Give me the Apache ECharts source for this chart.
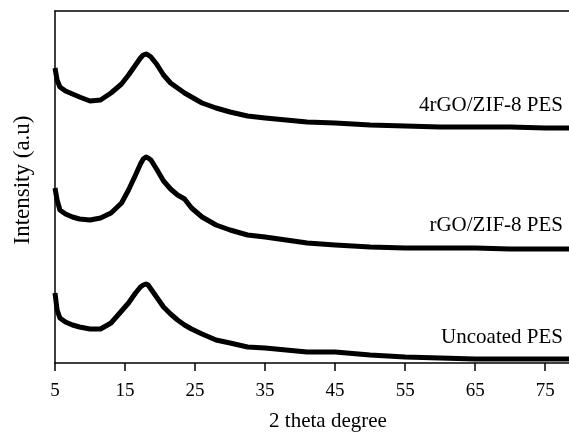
<!DOCTYPE html>
<html>
<head>
<meta charset="utf-8">
<script src="https://cdn.jsdelivr.net/npm/echarts@6/dist/echarts.min.js"></script>
<style>
html,body{margin:0;padding:0;background:#fff;}
#c{width:569px;height:433px;}
</style>
</head>
<body>
<div id="c"></div>
<script>
// 2 theta sample positions (degrees)
var twoTheta = [5, 5.3, 5.7, 6.5, 7.5, 8.5, 10, 11.5, 13, 14.5, 15.5, 16.5, 17.2, 17.6, 18, 18.3, 18.7, 19.5, 20.5, 21.5, 22.5, 23.5, 24.5, 26, 28, 30, 32.5, 35, 38, 41, 45, 50, 55, 60, 65, 70, 75, 78.4];
// intensities (a.u., stacked offsets as plotted)
var pes4rGO = [295, 283, 276, 272, 269, 266, 262, 263, 270, 279, 288, 298, 305, 308, 309, 308, 306, 299, 288, 280, 275, 270, 266, 260, 255, 251, 247, 245, 243, 241, 240, 238, 237, 236, 236, 236, 235, 235];
var pesrGO = [175, 163, 153, 149, 146, 144, 143, 145, 150, 160, 173, 188, 199, 204, 206, 205, 203, 194, 182, 174, 168, 164, 155, 146, 138, 133, 128, 126, 123, 120, 118, 116, 115, 115, 115, 114, 114, 114];
var pesUncoated = [70, 53, 45, 41, 38, 36, 34, 34, 40, 52, 60, 70, 76, 78, 79, 78, 74, 66, 56, 49, 43, 38, 34, 29, 23, 20, 16, 15, 13, 11, 11, 8, 6, 5, 4, 4, 4, 4];
var tickLabels = [5, 15, 25, 35, 45, 55, 65, 75];
var seriesNames = ['4rGO/ZIF-8 PES', 'rGO/ZIF-8 PES', 'Uncoated PES'];

function pairs(xs, ys) { return xs.map(function (x, i) { return [x, ys[i]]; }); }

var font = 'Liberation Serif, Times New Roman, serif';
var chart = echarts.init(document.getElementById('c'), null, {renderer: 'canvas'});
var lineStyle = {color: '#000', width: 5, join: 'round'};
chart.setOption({
  animation: false,
  backgroundColor: '#fff',
  grid: {left: 55, top: 11, right: 0, bottom: 70},
  xAxis: [{
    type: 'value', min: 5, max: 78.4,
    axisLine: {show: true, lineStyle: {color: '#000', width: 1.5}},
    axisTick: {show: true, inside: false, length: 8, customValues: tickLabels, lineStyle: {color: '#000', width: 1.5}},
    axisLabel: {show: true, customValues: tickLabels, margin: 19, color: '#000', fontFamily: font, fontSize: 19},
    splitLine: {show: false}
  }, {
    type: 'value', min: 5, max: 78.4, position: 'top',
    axisLine: {show: true, lineStyle: {color: '#000', width: 1.5}},
    axisTick: {show: false}, axisLabel: {show: false}, splitLine: {show: false}
  }],
  yAxis: {
    type: 'value', min: 0, max: 352,
    axisLine: {show: true, lineStyle: {color: '#000', width: 1.5}},
    axisTick: {show: false}, axisLabel: {show: false}, splitLine: {show: false}
  },
  series: [
    {name: seriesNames[0], type: 'line', data: pairs(twoTheta, pes4rGO), showSymbol: false, lineStyle: lineStyle},
    {name: seriesNames[1], type: 'line', data: pairs(twoTheta, pesrGO), showSymbol: false, lineStyle: lineStyle},
    {name: seriesNames[2], type: 'line', data: pairs(twoTheta, pesUncoated), showSymbol: false, lineStyle: lineStyle}
  ],
  graphic: [
    {type: 'text', right: 6, top: 95, style: {text: seriesNames[0], fill: '#000', font: '21px ' + font}},
    {type: 'text', right: 6, top: 215, style: {text: seriesNames[1], fill: '#000', font: '21px ' + font}},
    {type: 'text', right: 6, top: 327, style: {text: seriesNames[2], fill: '#000', font: '21px ' + font}},
    {type: 'text', x: 328, y: 421, style: {text: '2 theta degree', fill: '#000', font: '21px ' + font, align: 'center', verticalAlign: 'middle'}},
    {type: 'text', x: 23, y: 180, rotation: Math.PI / 2, style: {text: 'Intensity (a.u)', fill: '#000', font: '23px ' + font, align: 'center', verticalAlign: 'middle'}}
  ]
});
</script>
</body>
</html>
